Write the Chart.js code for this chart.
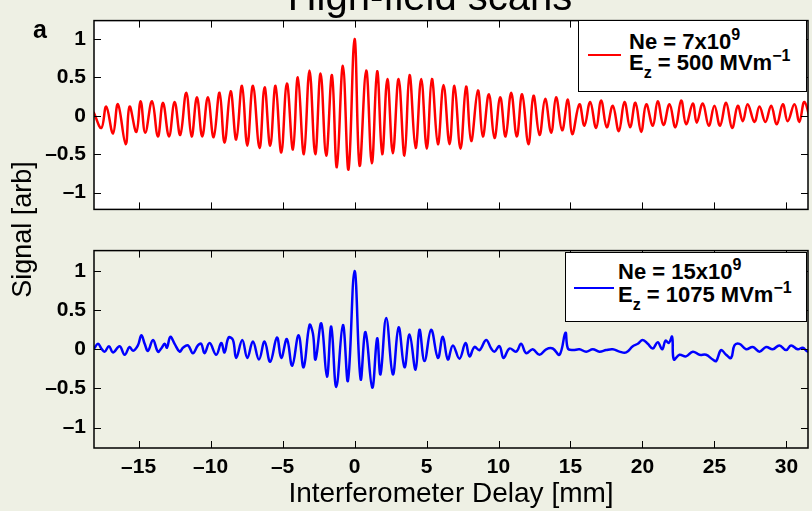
<!DOCTYPE html>
<html>
<head>
<meta charset="utf-8">
<script src="https://cdn.jsdelivr.net/npm/chart.js@4/dist/chart.umd.min.js"></script>
<style>
  html, body { margin: 0; padding: 0; background: #eef0e4; }
  #wrap { position: relative; width: 812px; height: 511px; overflow: hidden; background: #eef0e4;
          font-family: "Liberation Sans", Arial, Helvetica, sans-serif; color: #000; }
  canvas { position: absolute; left: 0; }
  #cTop { top: 0; }
  #cBot { top: 230px; }
  .t { position: absolute; white-space: nowrap; line-height: 1; }
  #title { left: 230px; width: 400px; text-align: center; top: -24px; font-size: 40px; }
  #panel { left: 33px; top: 17px; font-size: 25px; font-weight: bold; }
  #ylab { left: -78px; width: 200px; text-align: center; top: 216px; font-size: 27px; transform: rotate(-90deg); }
  .leg { position: absolute; background: #fff; border: 1px solid #000; box-sizing: border-box; }
  .leg .sw { position: absolute; height: 2px; }
  .leg .ln { position: absolute; font-size: 22px; font-weight: bold; white-space: nowrap; line-height: 1;
             font-family: "Liberation Sans Narrow", "Liberation Sans", Arial, sans-serif; transform-origin: 0 0; }
  .leg sup { font-size: 16px; line-height: 0; vertical-align: 9px; }
  .leg sub { font-size: 16px; line-height: 0; vertical-align: -8px; }
</style>
</head>
<body>
<div id="wrap">
  <canvas id="cTop" width="812" height="230"></canvas>
  <canvas id="cBot" width="812" height="281"></canvas>
  <div class="t" id="title">High-field scans</div>
  <div class="t" id="panel">a</div>
  <div class="t" id="ylab">Signal [arb]</div>
  <div class="leg" style="left:578px;top:20px;width:229px;height:72px;">
    <div class="sw" style="left:9px;top:33px;width:33px;background:#ff0000;"></div>
    <div class="ln" style="left:50px;top:10px;">Ne = 7x10<sup>9</sup></div>
    <div class="ln" style="left:50px;top:31px;">E<sub>z</sub> = 500 MVm<sup>&minus;1</sup></div>
  </div>
  <div class="leg" style="left:565px;top:252px;width:242px;height:70px;">
    <div class="sw" style="left:8px;top:34px;width:40px;background:#0000ff;"></div>
    <div class="ln" style="left:52px;top:8px;">Ne = 15x10<sup>9</sup></div>
    <div class="ln" style="left:52px;top:31px;">E<sub>z</sub> = 1075 MVm<sup>&minus;1</sup></div>
  </div>
</div>
<script>
// tick positions (mm / arb)
var xTicks = [-15, -10, -5, 0, 5, 10, 15, 20, 25, 30];
var yTicks = [-1, -0.5, 0, 0.5, 1];

// Ne = 7x10^9 scan (red), extrema
var topDelay = [-18.13,-17.59,-17.25,-16.78,-16.44,-15.90,-15.63,-15.16,-14.86,-14.54,-14.07,-13.66,-13.31,-12.89,
  -12.50,-12.11,-11.69,-11.32,-10.95,-10.58,-10.19,-9.79,-9.38,-9.03,-8.61,-8.22,-7.82,-7.45,-7.06,-6.60,-6.25,
  -5.86,-5.49,-5.09,-4.70,-4.28,-3.94,-3.52,-3.13,-2.73,-2.36,-1.97,-1.57,-1.23,-0.81,-0.42,0,0.35,0.81,1.20,
  1.57,1.92,2.28,2.66,3.06,3.47,3.82,4.24,4.63,5.02,5.37,5.79,6.18,6.60,6.94,7.36,7.75,8.10,8.57,8.91,9.33,9.72,
  10.12,10.49,10.88,11.27,11.64,12.08,12.43,12.85,13.24,13.66,14.00,14.42,14.82,15.12,15.62,15.97,16.37,16.78,
  17.13,17.52,17.94,18.36,18.75,19.14,19.51,19.91,20.26,20.72,21.06,21.46,21.88,22.29,22.69,23.03,23.50,23.77,
  24.19,24.61,25.00,25.39,25.81,26.23,26.62,26.97,27.31,27.78,28.13,28.54,28.94,29.33,29.75,30.09,30.56,30.90,
  31.25,31.74];
var topSignal = [0.05,-0.16,0.12,-0.23,0.15,-0.37,0.12,-0.21,0.19,-0.22,0.19,-0.27,0.17,-0.27,
  0.18,-0.25,0.30,-0.27,0.24,-0.27,0.24,-0.28,0.30,-0.35,0.32,-0.31,0.39,-0.39,0.39,-0.42,0.37,
  -0.39,0.39,-0.48,0.42,-0.44,0.50,-0.50,0.59,-0.50,0.55,-0.52,0.53,-0.67,0.65,-0.70,1.0,-0.65,0.59,-0.62,
  0.58,-0.50,0.48,-0.49,0.48,-0.52,0.53,-0.42,0.48,-0.43,0.48,-0.37,0.40,-0.37,0.39,-0.43,0.38,-0.33,0.33,-0.27,0.28,-0.29,
  0.24,-0.27,0.30,-0.27,0.28,-0.37,0.26,-0.25,0.22,-0.22,0.24,-0.19,0.21,-0.24,0.15,-0.13,0.18,-0.16,
  0.20,-0.15,0.13,-0.20,0.18,-0.15,0.17,-0.21,0.15,-0.13,0.19,-0.12,0.15,-0.15,0.20,-0.11,0.16,-0.09,
  0.16,-0.13,0.13,-0.13,0.17,-0.16,0.13,-0.07,0.15,-0.08,0.12,-0.08,0.13,-0.11,0.15,-0.07,0.15,-0.08,
  0.18,-0.13];

// Ne = 15x10^9 scan (blue)
var botDelay = [-18.13,-17.82,-17.59,-17.36,-17.06,-16.78,-16.32,-15.97,-15.63,-15.39,-15.05,-14.81,-14.58,-14.35,
  -14.00,-13.66,-13.43,-13.19,-13.03,-12.80,-12.50,-12.15,-11.92,-11.57,-11.23,-10.88,-10.65,-10.42,-10.07,-9.61,
  -9.26,-9.03,-8.75,-8.45,-8.22,-7.80,-7.45,-7.06,-6.64,-6.25,-5.86,-5.39,-5.09,-4.70,-4.33,-3.89,-3.54,-3.13,
  -2.89,-2.71,-2.31,-1.92,-1.62,-1.27,-0.81,-0.46,0,0.42,0.76,1.23,1.57,1.80,2.20,2.66,3.06,3.47,3.82,4.24,4.51,
  4.86,5.32,5.79,6.13,6.48,6.83,7.29,7.71,7.99,8.33,8.68,9.14,9.49,9.72,10.07,10.35,10.76,11.23,11.57,11.92,
  12.38,12.85,13.31,13.77,14.24,14.65,14.82,15.16,15.62,16.09,16.55,17.01,17.48,17.94,18.40,18.87,19.33,19.68,
  20.02,20.37,20.72,21.06,21.37,21.60,21.83,22.06,22.18,22.57,23.03,23.50,23.96,24.42,24.88,25.12,25.46,25.81,
  26.16,26.39,26.74,27.20,27.66,28.13,28.59,29.05,29.51,29.98,30.32,30.79,31.14,31.48,31.74];
var botSignal = [0.00,0.07,0.01,-0.03,0.04,-0.04,0.04,-0.07,0.03,-0.02,0.05,0.18,0.07,-0.02,
  0.12,-0.03,0.01,0.07,0.02,0.16,0.07,-0.03,0.02,0.05,-0.05,0.05,0.07,-0.05,0.08,-0.07,
  0.08,-0.04,0.15,0.12,-0.11,0.12,-0.11,0.10,-0.13,0.10,-0.16,0.15,-0.11,0.13,-0.21,0.18,-0.23,0.31,
  0.20,-0.13,0.33,-0.35,0.29,-0.48,0.31,-0.40,1.00,-0.38,0.22,-0.49,0.14,-0.32,0.40,-0.32,0.28,-0.23,0.19,-0.26,0.25,
  -0.15,0.25,-0.11,0.16,-0.13,0.05,-0.12,0.08,-0.09,0.03,-0.01,0.12,0.01,-0.03,0.04,-0.11,0.01,-0.03,0.07,-0.05,
  0.00,-0.07,0.00,0.01,-0.07,0.21,0.01,-0.01,0.00,-0.03,0.00,-0.03,-0.01,0.00,-0.03,-0.04,0.04,0.07,
  0.12,0.07,0.01,0.09,0.00,0.11,0.08,0.16,-0.13,-0.07,-0.09,-0.03,-0.07,-0.07,-0.13,-0.15,-0.01,-0.07,
  -0.11,0.05,0.07,0.00,0.03,-0.03,0.03,0.00,0.05,-0.01,0.05,0.00,0.02,-0.03,-0.01];

var tickFont = { family: '"Liberation Sans Narrow", "Liberation Sans", Arial', size: 21, weight: 'bold' };

function fmt(v) { return v < 0 ? '\u2013' + Math.abs(v) : String(v); }

var boxPlugin = {
  id: 'box',
  beforeDraw: function (chart, args, o) {
    if (!o.fill) return;
    var a = chart.chartArea, c = chart.ctx;
    c.save(); c.fillStyle = o.fill;
    c.fillRect(a.left, a.top, a.right - a.left, a.bottom - a.top);
    c.restore();
  },
  afterDraw: function (chart) {
    var a = chart.chartArea, c = chart.ctx, xs = chart.scales.x, ys = chart.scales.y, L = 7;
    c.save();
    c.strokeStyle = '#000'; c.lineWidth = 1;
    c.beginPath();
    xs.ticks.forEach(function (t) {
      var p = Math.round(xs.getPixelForValue(t.value)) + 0.5;
      c.moveTo(p, a.bottom); c.lineTo(p, a.bottom - L);
      c.moveTo(p, a.top); c.lineTo(p, a.top + L);
    });
    ys.ticks.forEach(function (t) {
      var p = Math.round(ys.getPixelForValue(t.value)) + 0.5;
      c.moveTo(a.left, p); c.lineTo(a.left + L, p);
      c.moveTo(a.right, p); c.lineTo(a.right - L, p);
    });
    c.stroke();
    c.lineWidth = 1.5;
    c.strokeRect(a.left, a.top, a.right - a.left, a.bottom - a.top);
    c.restore();
  }
};

function panel(id, xs, ys, color, label, o) {
  new Chart(document.getElementById(id), {
    type: 'line',
    data: {
      datasets: [{
        label: label,
        data: xs.map(function (x, i) { return { x: x, y: ys[i] }; }),
        borderColor: color,
        borderWidth: 2.5,
        pointRadius: 0,
        tension: 0.4,
        fill: false
      }]
    },
    options: {
      responsive: false,
      animation: false,
      devicePixelRatio: 1,
      layout: { padding: { top: 14, right: 4, left: 0, bottom: 0 } },
      plugins: { legend: { display: false }, tooltip: { enabled: false }, box: { fill: o.fill } },
      scales: {
        x: {
          type: 'linear', min: -18.1, max: 31.5,
          afterBuildTicks: function (s) { s.ticks = xTicks.map(function (v) { return { value: v }; }); },
          afterFit: function (s) { s.height = o.xh; },
          grid: { display: false, drawTicks: false },
          border: { display: false },
          ticks: { display: o.showX, color: '#000', padding: 7, maxRotation: 0, font: tickFont, callback: fmt },
          title: { display: o.showX, text: 'Interferometer Delay [mm]', color: '#000',
                   font: { family: 'Liberation Sans', size: 28 }, padding: { top: 0, bottom: 0 } }
        },
        y: {
          min: o.ymin, max: o.ymax,
          afterBuildTicks: function (s) { s.ticks = yTicks.map(function (v) { return { value: v }; }); },
          afterFit: function (s) { s.width = 94; },
          grid: { display: false, drawTicks: false },
          border: { display: false },
          ticks: { color: '#000', padding: 8, font: tickFont, callback: fmt }
        }
      }
    },
    plugins: [boxPlugin]
  });
}

panel('cTop', topDelay, topSignal, '#ff0000', 'Ne = 7x10^9, Ez = 500 MV/m',
      { fill: '#ffffff', showX: false, xh: 14, ymin: -1.22, ymax: 1.24 });
panel('cBot', botDelay, botSignal, '#0000ff', 'Ne = 15x10^9, Ez = 1075 MV/m',
      { fill: null, showX: true, xh: 63, ymin: -1.26, ymax: 1.26 });
</script>
</body>
</html>
